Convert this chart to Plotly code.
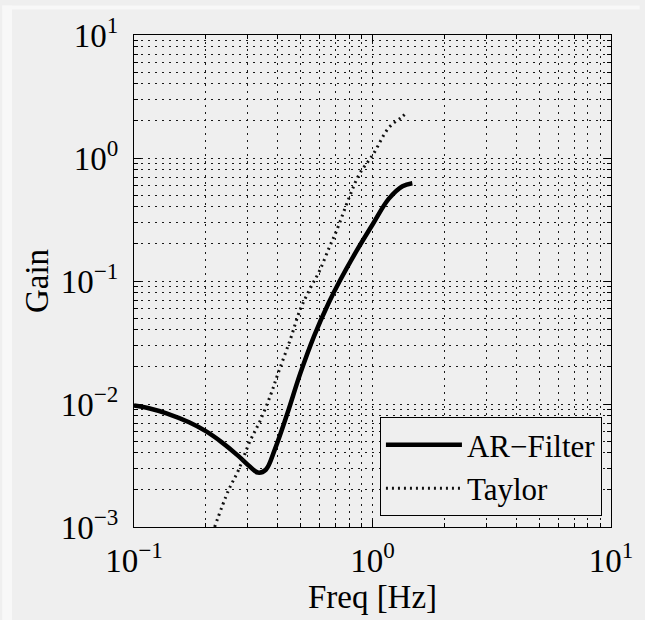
import plotly.graph_objects as go

# Frequency response data (Hz, gain)
ar_freq = [0.1, 0.1164, 0.1368, 0.1702, 0.2, 0.2328, 0.2736, 0.3066, 0.3308, 0.3569,
           0.3889, 0.4398, 0.4974, 0.5683, 0.6554, 0.7277, 0.855, 1.005, 1.169, 1.336, 1.469]
ar_gain = [0.00973, 0.0092, 0.0084, 0.0071, 0.00601, 0.0049, 0.00379, 0.00309, 0.00277, 0.00292,
           0.00424, 0.0084, 0.0176, 0.0355, 0.0665, 0.0995, 0.174, 0.292, 0.465, 0.59, 0.624]

taylor_freq = [0.2178, 0.2488, 0.2736, 0.3066, 0.3372, 0.3743, 0.4, 0.4525, 0.4974, 0.547,
               0.6016, 0.6615, 0.707, 0.8, 0.88, 1.005, 1.169, 1.311, 1.401]
taylor_gain = [0.001, 0.00198, 0.00287, 0.005, 0.00723, 0.0119, 0.0173, 0.0336, 0.0585, 0.0863,
               0.1225, 0.191, 0.257, 0.482, 0.737, 1.067, 1.757, 2.115, 2.36]

x_ticks = [0.1, 1, 10]
x_labels = ["10<sup>\u22121</sup>", "10<sup>0</sup>", "10<sup>1</sup>"]
y_ticks = [0.001, 0.01, 0.1, 1, 10]
y_labels = ["10<sup>\u22123</sup>", "10<sup>\u22122</sup>", "10<sup>\u22121</sup>",
            "10<sup>0</sup>", "10<sup>1</sup>"]

# minor ticks at 2..9 of every decade
x_minor = [m * 10 ** e for e in (-1, 0) for m in range(2, 10)]
y_minor = [m * 10 ** e for e in (-3, -2, -1, 0) for m in range(2, 10)]

BG = "#efefef"
FONT = "Liberation Serif"
FS = 33
GRID = dict(showgrid=True, gridcolor="#1a1a1a", gridwidth=1, griddash="2px,5px")

fig = go.Figure()
fig.add_trace(go.Scatter(
    x=ar_freq, y=ar_gain, mode="lines", name="AR\u2212Filter",
    line=dict(color="black", width=4.5, shape="spline", smoothing=1.0),
))
fig.add_trace(go.Scatter(
    x=taylor_freq, y=taylor_gain, mode="lines", name="Taylor",
    line=dict(color="#111111", width=3, dash="2px,4px", shape="spline", smoothing=1.0),
))

axis_common = dict(
    type="log", showline=True, linecolor="black", linewidth=1, mirror="ticks",
    ticks="inside", ticklen=7, tickcolor="black", tickwidth=1,
    tickfont=dict(family=FONT, size=FS, color="black"),
    zeroline=False, **GRID,
)

fig.update_xaxes(
    range=[-1, 1], tickvals=x_ticks, ticktext=x_labels,
    minor=dict(tickvals=x_minor, ticks="inside", ticklen=4, tickcolor="black", **GRID),
    title=dict(text="Freq [Hz]", font=dict(family=FONT, size=FS, color="black"), standoff=0),
    ticklabelstandoff=4,
    **axis_common,
)
fig.update_yaxes(
    range=[-3, 1], tickvals=y_ticks, ticktext=y_labels,
    minor=dict(tickvals=y_minor, ticks="inside", ticklen=4, tickcolor="black", **GRID),
    title=dict(text="Gain", font=dict(family=FONT, size=FS, color="black"), standoff=2),
    ticklabelstandoff=8,
    **axis_common,
)

fig.update_layout(
    width=645, height=620,
    margin=dict(l=134, r=26, t=29, b=93),
    paper_bgcolor=BG, plot_bgcolor=BG,
    font=dict(family=FONT, size=FS, color="black"),
    showlegend=True,
    legend=dict(
        x=0.981, xanchor="right", y=0.022, yanchor="bottom",
        bgcolor=BG, bordercolor="black", borderwidth=1,
        font=dict(family=FONT, size=31, color="black"),
        itemwidth=76, tracegroupgap=0,
    ),
    shapes=[
        dict(type="rect", xref="paper", yref="paper", x0=-0.2763, x1=-0.2557, y0=-0.19, y1=1.06,
             fillcolor="#f8f8f8", line=dict(width=0), layer="above"),
        dict(type="rect", xref="paper", yref="paper", x0=-0.2763, x1=1.06, y0=1.052, y1=1.06,
             fillcolor="#f8f8f8", line=dict(width=0), layer="above"),
    ],
)

fig.write_html("out.html", config={"displayModeBar": False})
